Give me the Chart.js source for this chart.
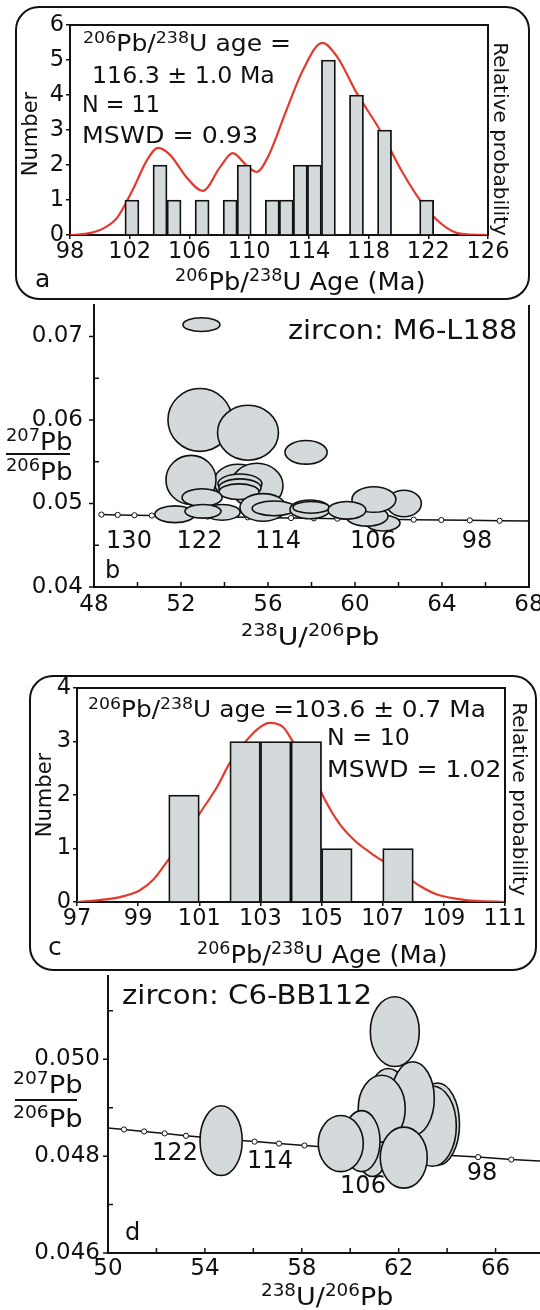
<!DOCTYPE html>
<html><head><meta charset="utf-8">
<script src="https://cdn.jsdelivr.net/npm/chart.js@4.4.1/dist/chart.umd.min.js"></script>
<style>
html,body{margin:0;padding:0;background:#fff;}
#page{position:relative;width:540px;height:1310px;overflow:hidden;background:#fff;}
canvas{position:absolute;left:0;}
.box{position:absolute;border:2px solid #111;box-sizing:border-box;}
.t{position:absolute;white-space:nowrap;font-family:'DejaVu Sans',sans-serif;line-height:1;color:#111;transform-origin:0 0;}
.r{position:absolute;white-space:nowrap;font-family:'DejaVu Sans',sans-serif;line-height:1;color:#111;transform-origin:50% 50%;}
.c{transform:translateX(-50%);}
.s16{font-size:16px;vertical-align:8px;line-height:0;}
.s17{font-size:17px;vertical-align:9px;line-height:0;}
.bar{position:absolute;height:2px;background:#111;}
</style></head><body><div id="page">
<canvas id="cA" width="540" height="300" style="top:0px"></canvas>
<canvas id="cB" width="560" height="345" style="top:300px"></canvas>
<canvas id="cC" width="540" height="311" style="top:660px"></canvas>
<canvas id="cD" width="560" height="339" style="top:971px"></canvas>

<div class="box" style="left:15px;top:6px;width:515px;height:294px;border-radius:24px;"></div>
<div class="box" style="left:29px;top:675px;width:508px;height:296px;border-radius:24px;"></div>

<!-- panel a -->
<div class="t" style="left:83px;top:31.5px;font-size:23px;transform:scaleX(1.09)"><span class="s16">206</span>Pb/<span class="s16">238</span>U age =</div>
<div class="t" style="left:92px;top:63.5px;font-size:23px;transform:scaleX(1.03)">116.3 ± 1.0 Ma</div>
<div class="t" style="left:82px;top:92.5px;font-size:23px;transform:scaleX(0.97)">N = 11</div>
<div class="t" style="left:82px;top:123.5px;font-size:23px;transform:scaleX(1.1)">MSWD = 0.93</div>
<div class="r" style="left:30px;top:134px;font-size:21px;transform:translate(-50%,-50%) rotate(-90deg)">Number</div>
<div class="r" style="left:501px;top:139px;font-size:20px;transform:translate(-50%,-50%) rotate(90deg)">Relative probability</div>
<div class="t" style="left:35px;top:266px;font-size:25px;">a</div>
<div class="t" style="left:175px;top:269px;font-size:25px;transform:scaleX(1.03)"><span class="s17">206</span>Pb/<span class="s17">238</span>U Age (Ma)</div>

<!-- panel b -->
<div class="t" style="left:288px;top:317px;font-size:26px;transform:scaleX(1.107)">zircon: M6-L188</div>
<div class="t" style="left:105px;top:557.7px;font-size:24px;">b</div>
<div class="t c" style="left:129px;top:527.7px;font-size:24px;">130</div>
<div class="t c" style="left:199.5px;top:527.7px;font-size:24px;">122</div>
<div class="t c" style="left:278px;top:527.7px;font-size:24px;">114</div>
<div class="t c" style="left:373px;top:527.7px;font-size:24px;">106</div>
<div class="t c" style="left:477px;top:527.7px;font-size:24px;">98</div>
<div class="t" style="left:6px;top:428.9px;font-size:25px;transform:scaleX(1.05)"><span class="s17">207</span>Pb</div>
<div class="bar" style="left:6px;top:453px;width:64px;"></div>
<div class="t" style="left:6px;top:458.9px;font-size:25px;transform:scaleX(1.05)"><span class="s17">206</span>Pb</div>
<div class="t" style="left:241px;top:623.9px;font-size:25px;transform:scaleX(1.13)"><span class="s17">238</span>U/<span class="s17">206</span>Pb</div>

<!-- panel c -->
<div class="t" style="left:88px;top:697.5px;font-size:23px;transform:scaleX(1.08)"><span class="s16">206</span>Pb/<span class="s16">238</span>U age =103.6 ± 0.7 Ma</div>
<div class="t" style="left:327px;top:725.5px;font-size:23px;transform:scaleX(1.03)">N = 10</div>
<div class="t" style="left:327px;top:757.5px;font-size:23px;transform:scaleX(1.09)">MSWD = 1.02</div>
<div class="r" style="left:44px;top:795px;font-size:21px;transform:translate(-50%,-50%) rotate(-90deg)">Number</div>
<div class="r" style="left:520px;top:799px;font-size:20px;transform:translate(-50%,-50%) rotate(90deg)">Relative probability</div>
<div class="t" style="left:48px;top:934px;font-size:25px;">c</div>
<div class="t" style="left:197px;top:942px;font-size:25px;transform:scaleX(1.03)"><span class="s17">206</span>Pb/<span class="s17">238</span>U Age (Ma)</div>

<!-- panel d -->
<div class="t" style="left:122px;top:982px;font-size:26px;transform:scaleX(1.12)">zircon: C6-BB112</div>
<div class="t" style="left:125px;top:1219.7px;font-size:24px;">d</div>
<div class="t c" style="left:175px;top:1139.7px;font-size:24px;">122</div>
<div class="t c" style="left:270px;top:1147.7px;font-size:24px;">114</div>
<div class="t c" style="left:363px;top:1172.7px;font-size:24px;">106</div>
<div class="t c" style="left:482px;top:1159.7px;font-size:24px;">98</div>
<div class="t" style="left:13px;top:1071.9px;font-size:25px;transform:scaleX(1.1)"><span class="s17">207</span>Pb</div>
<div class="bar" style="left:15px;top:1099px;width:62px;"></div>
<div class="t" style="left:13px;top:1105.9px;font-size:25px;transform:scaleX(1.1)"><span class="s17">206</span>Pb</div>
<div class="t" style="left:261px;top:1283.9px;font-size:25px;transform:scaleX(1.08)"><span class="s17">238</span>U/<span class="s17">206</span>Pb</div>
</div>

<script>
// ---------- Panel a: histogram + probability curve ----------
const binCentersA = [102.15,103.09,104.03,104.97,105.91,106.85,107.79,108.73,109.67,110.61,111.55,112.49,113.43,114.37,115.31,116.25,117.19,118.13,119.07,120.01,120.95,121.89];
const countsA     = [1,0,2,1,0,1,0,1,2,0,1,1,2,2,5,0,4,0,3,0,0,1];
const curveAX = [98,99,100,101.15,102.2,103.16,103.9,104.7,105.84,106.9,108.05,108.9,109.8,110.5,111.26,112.5,113.6,114.9,115.9,117.2,118.76,120.3,121.44,122.58,123.9,125,126];
const curveAY = [0,0.03,0.14,0.49,1.29,2.14,2.49,2.29,1.63,1.26,1.94,2.34,2.0,1.8,2.23,3.57,4.71,5.49,5.09,4.06,3.0,1.77,1.0,0.43,0.06,0.01,0];
const xTicksA = [98,102,106,110,114,118,122,126];
const yTicksA = [0,1,2,3,4,5,6];

// ---------- Panel c: histogram + probability curve ----------
const binCentersC = [100.5,101.5,102.5,103.5,104.5,105.5,106.5,107.5];
const countsC     = [2,0,3,3,3,1,0,1];
const curveCX = [97,98.08,98.6,99.06,99.5,99.94,100.5,101.02,101.58,102.0,102.56,102.99,103.31,103.74,104.07,104.62,105.11,105.6,106.1,106.6,107.1,107.66,108.22,108.78,109.43,110.08,111];
const curveCY = [0,0.06,0.12,0.22,0.42,0.75,1.2,1.66,2.15,2.6,3.03,3.27,3.35,3.27,2.99,2.52,1.91,1.45,1.14,0.92,0.73,0.52,0.3,0.14,0.06,0.02,0];
const xTicksC = [97,99,101,103,105,107,109,111];
const yTicksC = [0,1,2,3,4];

// ---------- Concordia (ages 132 ... 94 Ma) ----------
const concAge = [132,130,128,126,124,122,120,118,116,114,112,110,108,106,104,102,100,98,96,94];
const concX = [48.34,49.09,49.86,50.66,51.49,52.34,53.22,54.13,55.07,56.05,57.06,58.11,59.19,60.32,61.49,62.70,63.97,65.28,66.65,68.08];
const concY = [0.04867,0.04863,0.04859,0.04855,0.04851,0.04847,0.04842,0.04838,0.04834,0.04830,0.04826,0.04822,0.04818,0.04814,0.04810,0.04806,0.04802,0.04798,0.04793,0.04789];

// ---------- Panel b: error ellipses (238U/206Pb, 207Pb/206Pb, half-axes) ----------
const ellBX  = [52.94,52.87,55.08,57.75,54.62,55.49,52.46,54.71,54.71,54.67,55.77,52.97,53.89,51.72,53.01,56.28,57.93,57.98,62.25,61.29,60.55,60.87,59.63];
const ellBY  = [0.07141,0.0600,0.05847,0.05612,0.05259,0.05212,0.05282,0.05235,0.05188,0.05141,0.04953,0.05071,0.04894,0.04871,0.04906,0.04941,0.04929,0.04953,0.0500,0.04765,0.04847,0.05047,0.04918];
const ellBRx = [0.85,1.47,1.40,0.97,1.10,1.20,1.15,1.01,0.97,0.92,1.06,0.92,0.83,0.92,0.83,1.01,0.92,0.83,0.80,0.78,0.97,1.01,0.87];
const ellBRy = [0.00082,0.00376,0.00329,0.00141,0.0021,0.0027,0.00294,0.00118,0.00106,0.00094,0.00165,0.00106,0.00094,0.0010,0.00082,0.00088,0.00112,0.0007,0.00159,0.00094,0.00118,0.00153,0.00106];
const xTicksB = [48,52,56,60,64,68];
const xMinorB = [50,54,58,62,66];
const yTicksB = [0.04,0.05,0.06,0.07];
const yMinorB = [0.045,0.055,0.065];

// ---------- Panel d: error ellipses ----------
const ellDX  = [54.67,61.57,60.91,63.60,63.39,62.58,61.84,61.30,62.21,60.47,59.61];
const ellDY  = [0.04832,0.0491,0.04809,0.04866,0.04862,0.04919,0.05057,0.04898,0.04797,0.04831,0.04826];
const ellDRx = [0.87,0.83,0.62,0.91,0.99,0.89,1.01,0.97,0.97,0.76,0.93];
const ellDRy = [0.00072,0.00071,0.00051,0.00085,0.00083,0.00076,0.00072,0.00069,0.00063,0.00063,0.00058];
const xTicksD = [50,54,58,62,66];
const xMinorD = [52,56,60,64,68];
const yTicksD = [0.046,0.048,0.050];
const yMinorD = [0.047,0.049,0.051];

// ---------- styling ----------
const FONT = "'DejaVu Sans', sans-serif";
const INK = '#111';
const GREY = '#d4dadb';
const RED = '#e5392d';
Chart.defaults.font.family = FONT;
Chart.defaults.color = INK;

const near = (arr, v) => arr.some(a => Math.abs(a - v) < 1e-9);
const pts = (xs, ys) => xs.map((x, i) => ({x, y: ys[i]}));

const framePlugin = {
  id: 'frame',
  afterDatasetsDraw(chart, args, opts) {
    const {ctx, chartArea: a} = chart;
    const sides = opts.sides || [];
    ctx.save();
    ctx.strokeStyle = INK; ctx.lineWidth = 2; ctx.beginPath();
    if (sides.includes('top')) { ctx.moveTo(a.left - 1, a.top); ctx.lineTo(a.right + 1, a.top); }
    if (sides.includes('right')) { ctx.moveTo(a.right, a.top); ctx.lineTo(a.right, a.bottom + 1); }
    ctx.stroke(); ctx.restore();
  }
};

const ellipsePlugin = {
  id: 'ellipses',
  afterDatasetsDraw(chart) {
    const {ctx, chartArea: a, scales: {x, y}} = chart;
    chart.data.datasets.forEach(ds => {
      if (!ds.isEllipse) return;
      ctx.save();
      ctx.beginPath(); ctx.rect(a.left, a.top, a.right - a.left, a.bottom - a.top); ctx.clip();
      ds.data.forEach(p => {
        const cx = x.getPixelForValue(p.x), cy = y.getPixelForValue(p.y);
        const rx = Math.abs(x.getPixelForValue(p.x + p.rx) - cx);
        const ry = Math.abs(y.getPixelForValue(p.y + p.ry) - cy);
        ctx.beginPath(); ctx.ellipse(cx, cy, rx, ry, 0, 0, Math.PI * 2);
        ctx.fillStyle = GREY; ctx.fill();
        ctx.lineWidth = 1.6; ctx.strokeStyle = INK; ctx.stroke();
      });
      ctx.restore();
    });
  }
};

const tickPlugin = {
  id: 'inTicks',
  afterDraw(chart, args, opts) {
    if (!opts.on) return;
    const {ctx, chartArea: a, scales: {x, y}} = chart;
    ctx.save(); ctx.strokeStyle = INK; ctx.lineWidth = 1.5; ctx.beginPath();
    x.ticks.forEach(t => { const px = x.getPixelForValue(t.value); ctx.moveTo(px, a.bottom); ctx.lineTo(px, a.bottom - 5); });
    y.ticks.forEach(t => {
      const py = y.getPixelForValue(t.value);
      const minor = near(chart.options.plugins.inTicks.yMinor, t.value);
      ctx.moveTo(a.left, py); ctx.lineTo(minor ? a.left + 5 : a.left - 5, py);
    });
    ctx.stroke(); ctx.restore();
  }
};

function histChart(id, bins, counts, cx, cy, xT, yT, pad, xH, yW) {
  return new Chart(document.getElementById(id), {
    type: 'bar',
    data: { datasets: [
      { type: 'bar', data: pts(bins, counts), backgroundColor: GREY, borderColor: INK, borderWidth: 1.8,
        barPercentage: 1, categoryPercentage: 1, order: 0 },
      { type: 'line', data: pts(cx, cy), borderColor: RED, borderWidth: 2.2, pointRadius: 0,
        cubicInterpolationMode: 'monotone', yAxisID: 'y', order: 1 }
    ]},
    options: {
      responsive: false, animation: false, devicePixelRatio: 1,
      layout: { padding: pad },
      plugins: { legend: {display: false}, tooltip: {enabled: false}, frame: {sides: ['top', 'right']}, inTicks: {on: false} },
      scales: {
        x: { type: 'linear', min: xT[0], max: xT[xT.length - 1], offset: false,
          afterBuildTicks: s => { s.ticks = xT.map(v => ({value: v})); },
          afterFit: s => { s.height = xH; s.paddingLeft = 0; s.paddingRight = 0; },
          ticks: { autoSkip: false, maxRotation: 0, padding: 0, font: {size: 22.5}, color: INK },
          grid: { display: true, drawOnChartArea: false, drawTicks: true, tickLength: 4, offset: false, color: INK, lineWidth: 1.5 },
          border: { display: true, color: INK, width: 2 } },
        y: { type: 'linear', min: yT[0], max: yT[yT.length - 1],
          afterBuildTicks: s => { s.ticks = yT.map(v => ({value: v})); },
          afterFit: s => { s.width = yW; s.paddingTop = 0; s.paddingBottom = 0; },
          ticks: { padding: 2, font: {size: 22.5}, color: INK },
          grid: { display: true, drawOnChartArea: false, drawTicks: true, tickLength: 4, color: INK, lineWidth: 1.5 },
          border: { display: true, color: INK, width: 2 } }
      }
    },
    plugins: [framePlugin]
  });
}

function concChart(id, ex, ey, erx, ery, xT, xM, yT, yM, ymax, dec, pad, xH, yW, yPad, xPad) {
  const xAll = xT.concat(xM).sort((a, b) => a - b);
  const yAll = yT.concat(yM).sort((a, b) => a - b);
  return new Chart(document.getElementById(id), {
    type: 'scatter',
    data: { datasets: [
      { data: pts(concX, concY), showLine: true, borderColor: INK, borderWidth: 1.5,
        pointRadius: 2.6, pointBackgroundColor: '#fff', pointBorderColor: INK, pointBorderWidth: 1 },
      { isEllipse: true, data: ex.map((x, i) => ({x, y: ey[i], rx: erx[i], ry: ery[i]})), pointRadius: 0, showLine: false }
    ]},
    options: {
      responsive: false, animation: false, devicePixelRatio: 1,
      layout: { padding: pad },
      plugins: { legend: {display: false}, tooltip: {enabled: false}, frame: {sides: ['right']}, inTicks: {on: true, yMinor: yM} },
      scales: {
        x: { type: 'linear', min: xAll[0], max: xAll[xAll.length - 1],
          afterBuildTicks: s => { s.ticks = xAll.map(v => ({value: v})); },
          afterFit: s => { s.height = xH; s.paddingLeft = 0; s.paddingRight = 0; },
          ticks: { autoSkip: false, maxRotation: 0, padding: xPad, font: {size: 23}, color: INK,
            callback: v => near(xT, v) ? String(v) : '' },
          grid: { display: false, drawTicks: false },
          border: { display: true, color: INK, width: 2 } },
        y: { type: 'linear', min: yT[0], max: ymax,
          afterBuildTicks: s => { s.ticks = yAll.map(v => ({value: v})); },
          afterFit: s => { s.width = yW; s.paddingTop = 0; s.paddingBottom = 0; },
          ticks: { padding: yPad, font: {size: 23}, color: INK,
            callback: v => near(yT, v) ? v.toFixed(dec) : '' },
          grid: { display: false, drawTicks: false },
          border: { display: true, color: INK, width: 2 } }
      }
    },
    plugins: [framePlugin, ellipsePlugin, tickPlugin]
  });
}

histChart('cA', binCentersA, countsA, curveAX, curveAY, xTicksA, yTicksA, {top: 25, right: 52, left: 0, bottom: 0}, 65, 70);
histChart('cC', binCentersC, countsC, curveCX, curveCY, xTicksC, yTicksC, {top: 28, right: 35, left: 0, bottom: 0}, 69, 77);
concChart('cB', ellBX, ellBY, ellBRx, ellBRy, xTicksB, xMinorB, yTicksB, yMinorB, 0.07376, 2, {top: 0, right: 31, left: 0, bottom: 0}, 58, 94, 11, 4);
concChart('cD', ellDX, ellDY, ellDRx, ellDRy, xTicksD, xMinorD, yTicksD, yMinorD, 0.05172, 3, {top: 0, right: 16, left: 0, bottom: 0}, 57, 108, 8, 2.5);
</script>
</body></html>
